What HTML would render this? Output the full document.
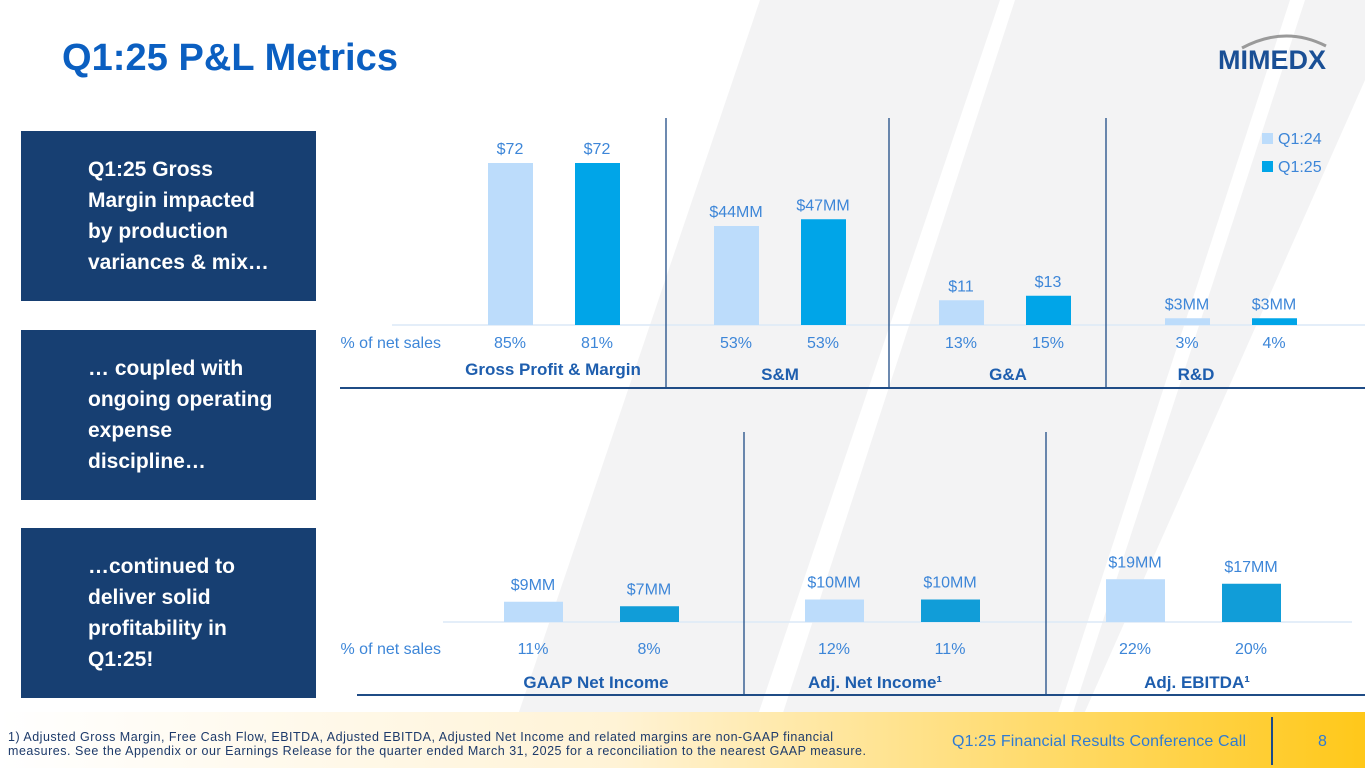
<!DOCTYPE html>
<html><head><meta charset="utf-8"><style>
body{margin:0;width:1365px;height:768px;overflow:hidden;background:#fff;font-family:"Liberation Sans",sans-serif;}
svg{position:absolute;left:0;top:0}
.box{position:absolute;left:21px;width:295px;height:170px;background:#173f72;color:#fff;font-weight:bold;font-size:21px;line-height:31px;box-sizing:border-box;padding-left:67px;padding-right:32px;display:flex;align-items:center}
</style></head><body>
<svg width="1365" height="768">
  <polygon points="760,0 1000,0 740,768 500,768" fill="#f3f3f4"/>
  <polygon points="1015,0 1290,0 1040,768 765,768" fill="#f3f3f4"/>
  <polygon points="1305,0 1365,0 1365,80 1060,768 1055,768" fill="#f3f3f4"/>
  <defs><linearGradient id="fg" x1="0" x2="1"><stop offset="0" stop-color="#fff"/><stop offset="0.45" stop-color="#fff3d6"/><stop offset="1" stop-color="#ffc81a"/></linearGradient></defs>
  <rect x="0" y="712" width="1365" height="56" fill="url(#fg)"/>
  <line x1="1272" y1="717" x2="1272" y2="765" stroke="#1a4a8a" stroke-width="2"/>
  <text x="62" y="70" font-size="38" font-weight="bold" fill="#0b5fc1" textLength="336">Q1:25 P&amp;L Metrics</text>
  <path d="M1242 48 Q1285 25 1326 46" stroke="#9a9a9a" stroke-width="3" fill="none"/>
  <text x="1218" y="69" font-size="27" font-weight="bold" fill="#1a4f95" textLength="108">MIMEDX</text>
  <text x="8" y="741" font-size="12.5" fill="#1d3a6a" textLength="825">1) Adjusted Gross Margin, Free Cash Flow, EBITDA, Adjusted EBITDA, Adjusted Net Income and related margins are non-GAAP financial</text>
  <text x="8" y="755" font-size="12.5" fill="#1d3a6a" textLength="858">measures. See the Appendix or our Earnings Release for the quarter ended March 31, 2025 for a reconciliation to the nearest GAAP measure.</text>
  <text x="952" y="746" font-size="16" fill="#2f7bd3" textLength="294">Q1:25 Financial Results Conference Call</text>
  <text x="1318" y="746" font-size="16" fill="#2f7bd3">8</text>
  <g id="chart"></g>
</svg>
<div class="box" style="top:131px">Q1:25 Gross Margin impacted by production variances &amp; mix…</div>
<div class="box" style="top:330px">… coupled with ongoing operating expense discipline…</div>
<div class="box" style="top:528px">…continued to deliver solid profitability in Q1:25!</div>
<script>
const topCats=["Gross Profit & Margin","S&M","G&A","R&D"];
const topQ124=[72,44,11,3];
const topQ125=[72,47,13,3];
const topLbl24=["$72","$44MM","$11","$3MM"];
const topLbl25=["$72","$47MM","$13","$3MM"];
const topPct24=["85%","53%","13%","3%"];
const topPct25=["81%","53%","15%","4%"];
const botCats=["GAAP Net Income","Adj. Net Income¹","Adj. EBITDA¹"];
const botQ124=[9,10,19];
const botQ125=[7,10,17];
const botLbl24=["$9MM","$10MM","$19MM"];
const botLbl25=["$7MM","$10MM","$17MM"];
const botPct24=["11%","12%","22%"];
const botPct25=["8%","11%","20%"];

const NS="http://www.w3.org/2000/svg";
const g=document.getElementById('chart');
function mk(t,a,txt){const e=document.createElementNS(NS,t);for(const k in a)e.setAttribute(k,a[k]);if(txt!==undefined)e.textContent=txt;g.appendChild(e);return e;}
const scale=2.25;
function yTop(v){return 325-v*scale;}
function yBot(v){return 622-v*scale;}

let e;
e=mk('line',{x1:392,y1:325,x2:1365,y2:325,stroke:'#dce9f7','stroke-width':1.5});


e=mk('line',{x1:340,y1:388,x2:1365,y2:388,stroke:'#1f4c86','stroke-width':2});


[666,889,1106].forEach(x=>{
  e=mk('line',{x1:x,y1:118,x2:x,y2:388,stroke:'#1f4c86','stroke-width':1.3});
  
  
});
e=mk('text',{x:441,y:348,'font-size':16,fill:'#3d86d8','text-anchor':'end'},'% of net sales');


const topC=[554,780,1005,1231], topCat=[553,780,1008,1196];
topCats.forEach((c,i)=>{
  const x1=topC[i]-66, x2=topC[i]+21;
  const h1=topQ124[i]*scale, h2=topQ125[i]*scale;
  e=mk('rect',{x:x1,y:yTop(topQ124[i]),width:45,height:h1,fill:'#bcdcfb'});
  
  
  e=mk('rect',{x:x2,y:yTop(topQ125[i]),width:45,height:h2,fill:'#00a5e8'});
  
  
  e=mk('text',{x:x1+22,y:yTop(topQ124[i])-9,'font-size':16,fill:'#3d86d8','text-anchor':'middle'},topLbl24[i]);
  
  
  e=mk('text',{x:x2+22,y:yTop(topQ125[i])-9,'font-size':16,fill:'#3d86d8','text-anchor':'middle'},topLbl25[i]);
  
  
  e=mk('text',{x:x1+22,y:348,'font-size':16,fill:'#3d86d8','text-anchor':'middle'},topPct24[i]);
  
  
  e=mk('text',{x:x2+22,y:348,'font-size':16,fill:'#3d86d8','text-anchor':'middle'},topPct25[i]);
  
  
  e=mk('text',{x:topCat[i],y:i==0?375:380,'font-size':17,'font-weight':'bold',fill:'#1e5eae','text-anchor':'middle'},c);
  
  
});
e=mk('rect',{x:1262,y:133,width:11,height:11,fill:'#bcdcfb'});


e=mk('text',{x:1278,y:144,'font-size':16,fill:'#3d86d8'},'Q1:24');


e=mk('rect',{x:1262,y:161,width:11,height:11,fill:'#00a5e8'});


e=mk('text',{x:1278,y:172,'font-size':16,fill:'#3d86d8'},'Q1:25');



e=mk('line',{x1:443,y1:622,x2:1352,y2:622,stroke:'#dce9f7','stroke-width':1.5});


e=mk('line',{x1:357,y1:695,x2:1365,y2:695,stroke:'#1f4c86','stroke-width':2});


[744,1046].forEach(x=>{
  e=mk('line',{x1:x,y1:432,x2:x,y2:695,stroke:'#1f4c86','stroke-width':1.3});
  
  
});
e=mk('text',{x:441,y:654,'font-size':16,fill:'#3d86d8','text-anchor':'end'},'% of net sales');


const botC=[591,892,1193], botCat=[596,875,1197];
botCats.forEach((c,i)=>{
  const x1=botC[i]-87, x2=botC[i]+29;
  e=mk('rect',{x:x1,y:yBot(botQ124[i]),width:59,height:botQ124[i]*scale,fill:'#bcdcfb'});
  
  
  e=mk('rect',{x:x2,y:yBot(botQ125[i]),width:59,height:botQ125[i]*scale,fill:'#119dd8'});
  
  
  e=mk('text',{x:x1+29,y:yBot(botQ124[i])-12,'font-size':16,fill:'#3d86d8','text-anchor':'middle'},botLbl24[i]);
  
  
  e=mk('text',{x:x2+29,y:yBot(botQ125[i])-12,'font-size':16,fill:'#3d86d8','text-anchor':'middle'},botLbl25[i]);
  
  
  e=mk('text',{x:x1+29,y:654,'font-size':16,fill:'#3d86d8','text-anchor':'middle'},botPct24[i]);
  
  
  e=mk('text',{x:x2+29,y:654,'font-size':16,fill:'#3d86d8','text-anchor':'middle'},botPct25[i]);
  
  
  e=mk('text',{x:botCat[i],y:688,'font-size':17,'font-weight':'bold',fill:'#1e5eae','text-anchor':'middle'},c);
  
  
});
</script>
</body></html>
